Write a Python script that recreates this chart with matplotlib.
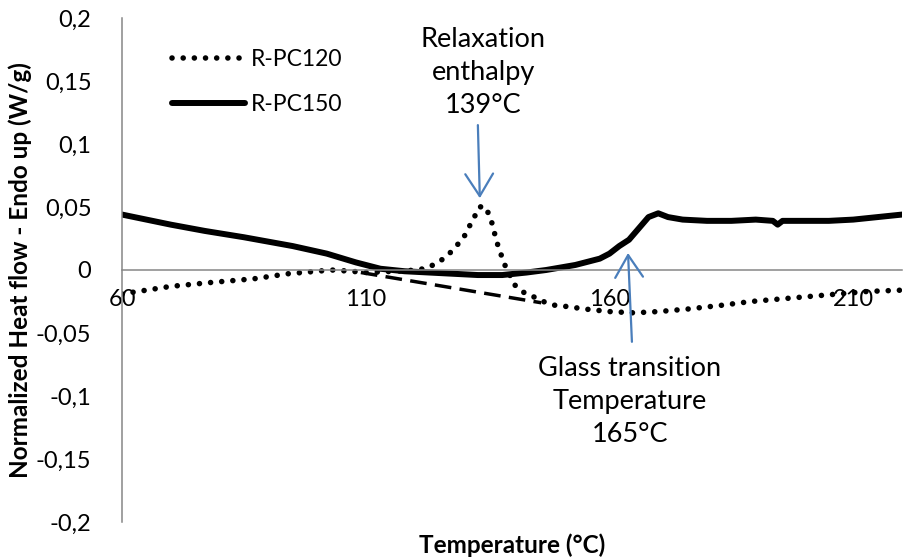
import matplotlib
matplotlib.use("Agg")
import matplotlib.pyplot as plt
from matplotlib.ticker import FuncFormatter, MultipleLocator

plt.rcParams['font.family'] = ['Lato', 'DejaVu Sans']

# R-PC150 (solid)
temp_pc150 = [60, 65, 70, 77, 85, 95, 102, 108, 113, 118, 123, 128, 133, 138,
              143, 147, 150, 153, 156, 158, 160, 162, 164, 166, 168, 170, 172,
              175, 180, 185, 190, 193.5, 194.5, 195.5, 200, 205, 210, 215, 220]
hf_pc150 = [0.044, 0.040, 0.036, 0.031, 0.026, 0.019, 0.013, 0.006, 0.001,
            -0.001, -0.002, -0.003, -0.004, -0.004, -0.002, 0.000, 0.002,
            0.004, 0.007, 0.009, 0.013, 0.019, 0.024, 0.033, 0.042, 0.045,
            0.042, 0.040, 0.039, 0.039, 0.040, 0.039, 0.036, 0.039, 0.039,
            0.039, 0.040, 0.042, 0.044]

# R-PC120 (dotted)
temp_pc120 = [60, 65, 70, 78, 87, 94, 100, 103, 107, 110, 116, 120.7, 122.8,
              124.8, 126.7, 128.3, 130, 131, 132.2, 133, 134, 134.7, 135.7,
              136.3, 136.9, 138.4, 140.6, 142.5, 144.3, 146.4, 148.8, 151.3,
              155, 160, 165, 170, 176, 183, 189, 195, 201, 207, 213, 220]
hf_pc120 = [-0.019, -0.016, -0.013, -0.010, -0.007, -0.003, -0.001, 0.000,
            -0.001, -0.002, -0.001, 0.000, 0.002, 0.006, 0.011, 0.018, 0.025,
            0.033, 0.041, 0.049, 0.051, 0.049, 0.040, 0.031, 0.022, 0.005,
            -0.012, -0.018, -0.021, -0.025, -0.028, -0.029, -0.031, -0.033,
            -0.034, -0.033, -0.031, -0.028, -0.025, -0.023, -0.021, -0.019,
            -0.017, -0.016]

# extrapolated baseline (dashed)
temp_base = [109, 146]
hf_base = [-0.002, -0.026]

x_ticks = [60, 110, 160, 210]

grey = '#868686'
blue = '#4a7ebb'

fig = plt.figure(figsize=(9.05, 5.59), dpi=100)
ax = fig.add_axes([122 / 905, 37 / 559, 780 / 905, 504 / 559])

ax.plot(temp_pc120, hf_pc120, color='black', lw=4, linestyle=(0, (0.01, 2.0)),
        dash_capstyle='round', label='R-PC120')
ax.plot(temp_pc150, hf_pc150, color='black', lw=4.3, solid_capstyle='round',
        solid_joinstyle='round', label='R-PC150')
ax.plot(temp_base, hf_base, color='black', lw=2.5, linestyle=(0, (4.8, 2.4)))

ax.set_xlim(60, 220)
ax.set_ylim(-0.2, 0.2)
ax.set_xticks(x_ticks)
ax.yaxis.set_major_locator(MultipleLocator(0.05))
ax.yaxis.set_major_formatter(FuncFormatter(
    lambda v, p: '0' if abs(v) < 1e-9 else f'{v:g}'.replace('.', ',')))

for s in ['top', 'right']:
    ax.spines[s].set_visible(False)
ax.spines['bottom'].set_position(('data', 0))
for s in ['left', 'bottom']:
    ax.spines[s].set_color(grey)
    ax.spines[s].set_linewidth(1.1)
ax.tick_params(axis='both', length=0, labelsize=17, colors='black')
ax.tick_params(axis='y', pad=22)
ax.tick_params(axis='x', pad=14)

ax.set_xlabel('Temperature (°C)', fontsize=17.5, fontweight='bold')
ax.set_ylabel('Normalized Heat flow - Endo up (W/g)', fontsize=17.5,
              fontweight='bold')
ax.xaxis.label.set_va('center')
ax.yaxis.label.set_va('center')
ax.xaxis.set_label_coords(0.5, -0.0456)
ax.yaxis.set_label_coords(-0.131, 0.5)

# annotations
arrow = dict(arrowstyle='->,head_length=0.8,head_width=0.5', mutation_scale=20,
             shrinkA=0, shrinkB=0, color=blue, lw=1.6)
ax.annotate('', xy=(133.4, 0.057), xytext=(133.0, 0.115), arrowprops=arrow)
ax.annotate('', xy=(163.8, 0.0135), xytext=(164.6, -0.057), arrowprops=arrow)
ax.text(134.1, 0.157, 'Relaxation\nenthalpy\n139°C', fontsize=19.5,
        ha='center', va='center', linespacing=1.4)
ax.text(164.2, -0.104, 'Glass transition\nTemperature\n165°C', fontsize=19.5,
        ha='center', va='center', linespacing=1.4)

ax.legend(loc='upper left', bbox_to_anchor=(172 / 905, 1 - 49 / 559),
          bbox_transform=fig.transFigure, frameon=False, fontsize=16.5,
          handlelength=3.2, handletextpad=0.25, labelspacing=1.05,
          borderpad=0, borderaxespad=0)

fig.savefig('out.png', dpi=100)
